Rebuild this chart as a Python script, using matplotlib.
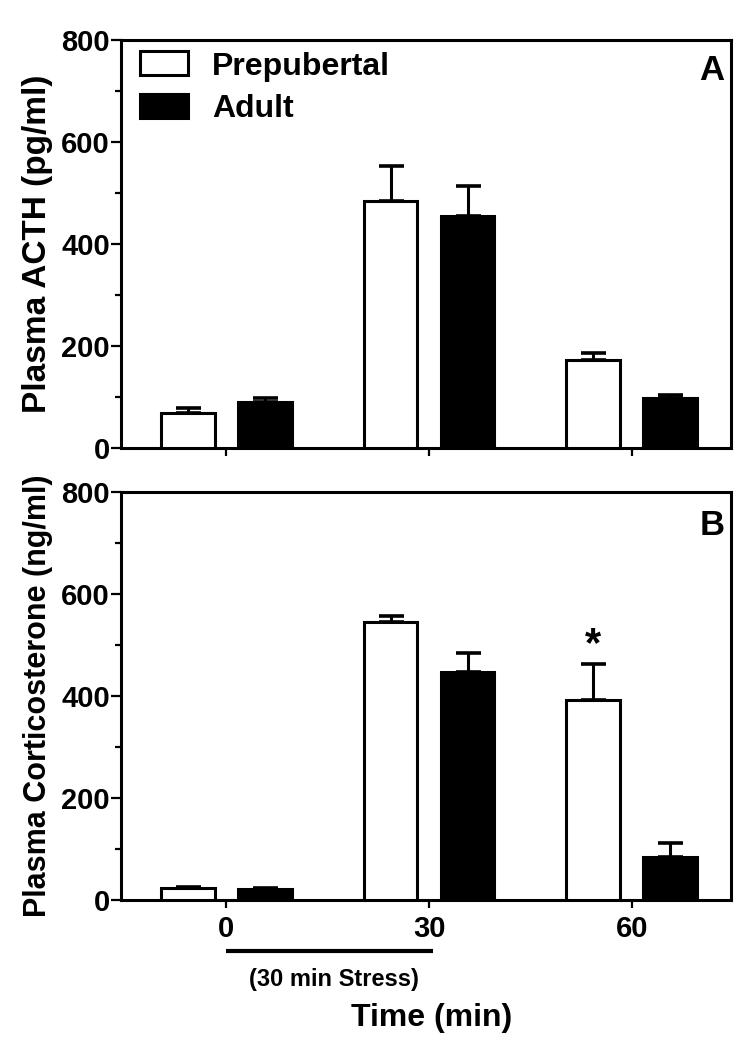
import numpy as np
import matplotlib
matplotlib.use("Agg")
from matplotlib import pyplot as plt
from matplotlib.ticker import MultipleLocator

plt.rcParams["font.family"] = ["Liberation Sans", "DejaVu Sans"]
plt.rcParams["font.weight"] = "bold"

# data
times = ["0", "30", "60"]
groups = ["Prepubertal", "Adult"]
acth_pre = [68, 485, 172]
acth_pre_err = [10, 67, 15]
acth_adult = [91, 455, 98]
acth_adult_err = [7, 58, 6]
cort_pre = [23, 545, 393]
cort_pre_err = [3, 12, 69]
cort_adult = [22, 447, 84]
cort_adult_err = [2, 38, 28]
star_y = 500

W, H = 748, 1049
fig = plt.figure(figsize=(W / 100, H / 100), dpi=100)
ax1 = fig.add_axes([121 / W, 1 - 448 / H, 610 / W, 408 / H])
ax2 = fig.add_axes([121 / W, 1 - 900 / H, 610 / W, 408 / H])

x = np.arange(len(times))
bw = 0.265
off = 0.19
lw = 2.2


def draw(ax, pre, pre_err, adult, adult_err, ylabel, ylsize, letter, letter_y):
    ax.bar(x - off, pre, bw, color="white", edgecolor="black", linewidth=lw,
           label=groups[0], zorder=3)
    ax.bar(x + off, adult, bw, color="black", edgecolor="black", linewidth=lw,
           label=groups[1], zorder=3)
    ax.errorbar(x - off, pre, yerr=[np.zeros(3), pre_err], fmt="none",
                ecolor="black", elinewidth=lw, capsize=9, capthick=2.6, zorder=2)
    ax.errorbar(x + off, adult, yerr=[np.zeros(3), adult_err], fmt="none",
                ecolor="black", elinewidth=lw, capsize=9, capthick=2.6, zorder=2)
    ax.set_xlim(-0.52, 2.49)
    ax.set_ylim(0, 800)
    ax.yaxis.set_major_locator(MultipleLocator(200))
    ax.yaxis.set_minor_locator(MultipleLocator(100))
    ax.set_xticks(x)
    for s in ax.spines.values():
        s.set_linewidth(2.2)
    ax.tick_params(axis="y", which="major", length=7, width=1.6, pad=1, labelsize=21)
    ax.tick_params(axis="y", which="minor", length=4, width=1.6)
    ax.tick_params(axis="x", length=6, width=1.6, pad=5, labelsize=21)
    ax.set_ylabel(ylabel, fontsize=ylsize, fontweight="bold", labelpad=6)
    ax.text(0.969, letter_y, letter, transform=ax.transAxes, fontsize=25,
            fontweight="bold", ha="center", va="center")


draw(ax1, acth_pre, acth_pre_err, acth_adult, acth_adult_err,
     "Plasma ACTH (pg/ml)", 24, "A", 0.926)
ax1.set_xticklabels([])
ax1.legend(loc="upper left", bbox_to_anchor=(0.031, 0.972), frameon=False,
           fontsize=23, handlelength=1.5, handleheight=0.78, handletextpad=0.75,
           labelspacing=0.4, borderpad=0, borderaxespad=0)

draw(ax2, cort_pre, cort_pre_err, cort_adult, cort_adult_err,
     "Plasma Corticosterone (ng/ml)", 22, "B", 0.919)
ax2.set_xticklabels(times)
ax2.text(x[2] - off, star_y, "*", fontsize=30, fontweight="bold",
         ha="center", va="center")

# stress bar under the x axis
trans = matplotlib.transforms.blended_transform_factory(ax2.transData, ax2.transAxes)
ax2.plot([x[0], x[1] + 0.02], [-0.125, -0.125], color="black", lw=3,
         transform=trans, clip_on=False, solid_capstyle="butt")
ax2.text(0.53, -0.194, "(30 min Stress)", transform=trans, fontsize=17,
         fontweight="bold", ha="center", va="center")
ax2.text(0.51, -0.29, "Time (min)", transform=ax2.transAxes, fontsize=23,
         fontweight="bold", ha="center", va="center")

fig.savefig("out.png", dpi=100)
